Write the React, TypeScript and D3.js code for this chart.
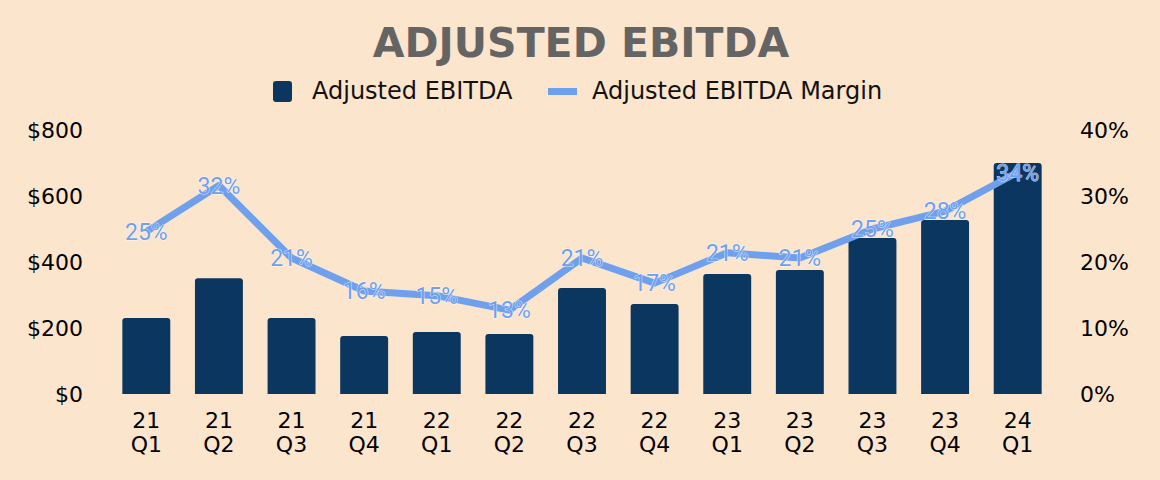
import * as d3 from 'd3'
import { useEffect, useRef } from 'react'

const quarters = ['21 Q1', '21 Q2', '21 Q3', '21 Q4', '22 Q1', '22 Q2', '22 Q3', '22 Q4', '23 Q1', '23 Q2', '23 Q3', '23 Q4', '24 Q1']
const ebitda = [230, 351, 230, 176, 188, 182, 321, 273, 364, 376, 473, 527, 700]
const margin = [24.6, 31.6, 20.6, 15.6, 14.9, 12.7, 20.6, 16.8, 21.4, 20.6, 25.0, 27.7, 33.6]
const leftTicks = [0, 200, 400, 600, 800]
const rightTicks = [0, 10, 20, 30, 40]

const W = 1160
const H = 480
const BG = '#fce5cd'
const BAR = '#0a365f'
const LINE = '#6ea0ee'
const AXIS_FONT = 'Verdana, "DejaVu Sans", sans-serif'

const App = () => {
  const ref = useRef<SVGSVGElement>(null)

  useEffect(() => {
    if (!ref.current) return
    document.body.style.margin = '0'
    const svg = d3.select(ref.current)
    svg.selectAll('*').remove()

    svg.append('rect').attr('width', W).attr('height', H).attr('fill', BG)

    const x = d3.scaleBand().domain(quarters).range([110, 1054]).paddingInner(0.34).paddingOuter(0.17)
    const yL = d3.scaleLinear().domain([0, 800]).range([394, 130])
    const yR = d3.scaleLinear().domain([0, 40]).range([394, 130])

    // title
    svg.append('text')
      .attr('x', 581).attr('y', 57)
      .attr('text-anchor', 'middle')
      .style('font-family', AXIS_FONT)
      .style('font-weight', 'bold')
      .style('font-size', '41px')
      .style('fill', '#646464')
      .text('ADJUSTED EBITDA')

    // legend
    const lg = svg.append('g').style('font-family', AXIS_FONT).style('font-size', '24px').style('fill', '#111')
    lg.append('rect').attr('x', 273).attr('y', 81).attr('width', 19).attr('height', 21).attr('rx', 3).attr('fill', BAR)
    lg.append('text').attr('x', 312).attr('y', 99).text('Adjusted EBITDA')
    lg.append('rect').attr('x', 548).attr('y', 88).attr('width', 29).attr('height', 7).attr('fill', LINE)
    lg.append('text').attr('x', 592).attr('y', 99).text('Adjusted EBITDA Margin')

    // left axis
    svg.append('g').selectAll('text').data(leftTicks).join('text')
      .attr('x', 83).attr('y', d => yL(d)).attr('dy', '0.36em')
      .attr('text-anchor', 'end')
      .style('font-family', AXIS_FONT).style('font-size', '22px').style('fill', '#000')
      .text(d => `$${d}`)

    // right axis
    svg.append('g').selectAll('text').data(rightTicks).join('text')
      .attr('x', 1080).attr('y', d => yR(d)).attr('dy', '0.36em')
      .attr('text-anchor', 'start')
      .style('font-family', AXIS_FONT).style('font-size', '22px').style('fill', '#000')
      .text(d => `${d}%`)

    // bars with rounded tops
    const r = 3
    svg.append('g').selectAll('path').data(quarters).join('path')
      .attr('fill', BAR)
      .attr('d', (q, i) => {
        const x0 = x(q)!
        const x1 = x0 + x.bandwidth()
        const y0 = yL(0)
        const y1 = yL(ebitda[i])
        return `M${x0},${y0}V${y1 + r}Q${x0},${y1} ${x0 + r},${y1}H${x1 - r}Q${x1},${y1} ${x1},${y1 + r}V${y0}Z`
      })

    // x labels
    const xl = svg.append('g').style('font-family', AXIS_FONT).style('font-size', '22px').style('fill', '#000')
    quarters.forEach(q => {
      const [yr, qq] = q.split(' ')
      const cx = x(q)! + x.bandwidth() / 2
      xl.append('text').attr('x', cx).attr('y', 428).attr('text-anchor', 'middle').text(yr)
      xl.append('text').attr('x', cx).attr('y', 452).attr('text-anchor', 'middle').text(qq)
    })

    // margin line
    const line = d3.line<number>()
      .x((_, i) => x(quarters[i])! + x.bandwidth() / 2)
      .y(d => yR(d))
    svg.append('path')
      .datum(margin)
      .attr('d', line)
      .attr('fill', 'none')
      .attr('stroke', LINE)
      .attr('stroke-width', 7)
      .attr('stroke-linejoin', 'round')

    // margin labels
    svg.append('g').selectAll('text').data(margin).join('text')
      .attr('x', (_, i) => x(quarters[i])! + x.bandwidth() / 2)
      .attr('y', d => yR(d))
      .attr('dy', '0.36em')
      .attr('text-anchor', 'middle')
      .style('font-family', 'Roboto, "Liberation Sans", sans-serif')
      .style('font-size', '23px')
      .style('fill', LINE)
      .style('stroke', 'rgba(255,255,255,0.75)')
      .style('stroke-width', '1px')
      .style('paint-order', 'stroke')
      .text(d => `${Math.round(d)}%`)
  }, [])

  return <svg ref={ref} width={W} height={H} style={{ display: 'block' }} />
}

export default App
